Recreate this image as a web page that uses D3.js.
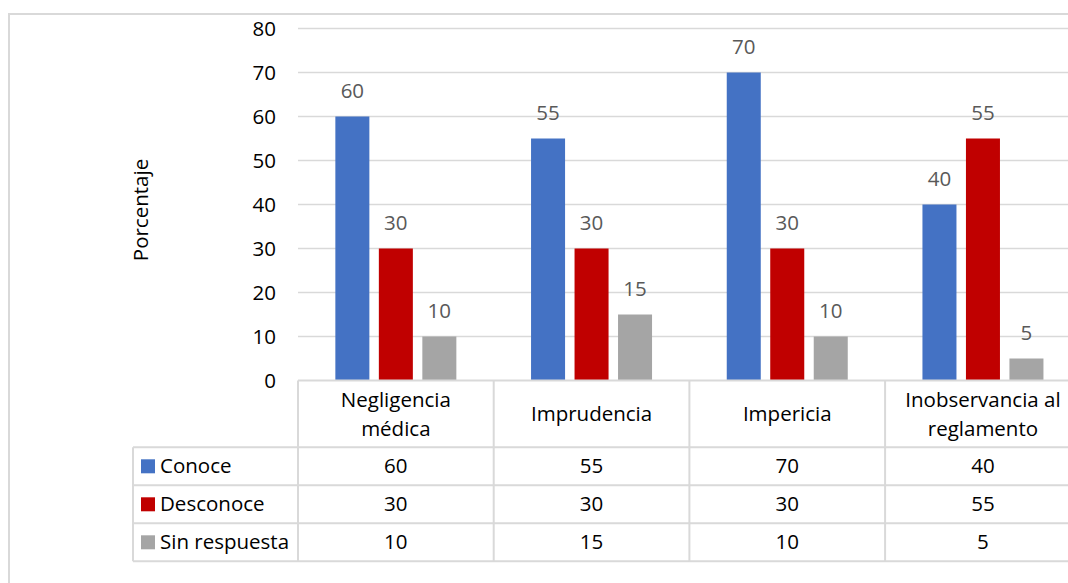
<!DOCTYPE html>
<html>
<head>
<meta charset="utf-8">
<script src="https://cdn.jsdelivr.net/npm/d3@7"></script>
<style>
  body { margin: 0; background: #fff; }
  text { font-family: "Open Sans", sans-serif; }
</style>
</head>
<body>
<script>
// Chart data
const categories = [["Negligencia", "médica"], ["Imprudencia"], ["Impericia"], ["Inobservancia al", "reglamento"]];
const seriesNames = ["Conoce", "Desconoce", "Sin respuesta"];
const conoce = [60, 55, 70, 40];
const desconoce = [30, 30, 30, 55];
const sinRespuesta = [10, 15, 10, 5];
const yTicks = [0, 10, 20, 30, 40, 50, 60, 70, 80];
const colors = ["#4472C4", "#C00000", "#A5A5A5"];

const values = [conoce, desconoce, sinRespuesta];

const width = 1068, height = 583;
const left = 298, colW = 195.7;
const yTop = 28.5, yBottom = 380.5;
const rowH = 38, headerBottom = 447.3, legendLeft = 133;
const gridColor = "#d9d9d9";
const fontSize = "20.5px";

const svg = d3.select("body").append("svg")
    .attr("width", width)
    .attr("height", height);

// outer chart border
svg.append("rect")
    .attr("x", 9).attr("y", 14)
    .attr("width", 1100).attr("height", 600)
    .attr("fill", "none")
    .attr("stroke", gridColor)
    .attr("stroke-width", 2);

const x0 = d3.scaleBand()
    .domain(d3.range(categories.length))
    .range([left, left + colW * categories.length]);

const x1 = d3.scaleBand()
    .domain(seriesNames)
    .range([x0.bandwidth() / 2 - 60.5, x0.bandwidth() / 2 + 60.5])
    .paddingInner(0.218);

const y = d3.scaleLinear().domain([0, 80]).range([yBottom, yTop]);

// gridlines
svg.append("g")
    .selectAll("line")
    .data(yTicks.slice(1))
    .enter().append("line")
    .attr("x1", left).attr("x2", width)
    .attr("y1", d => y(d)).attr("y2", d => y(d))
    .attr("stroke", gridColor)
    .attr("stroke-width", 1.3);

// y axis labels
const yAxis = svg.append("g")
    .attr("transform", `translate(${left - 22},0)`)
    .call(d3.axisLeft(y).tickValues(yTicks).tickSize(0).tickPadding(0));
yAxis.select(".domain").remove();
yAxis.selectAll("text")
    .style("font-family", "'Open Sans', sans-serif")
    .style("font-size", fontSize)
    .attr("fill", "#000");

svg.append("text")
    .attr("transform", `translate(148,210) rotate(-90)`)
    .attr("text-anchor", "middle")
    .style("font-size", fontSize)
    .text("Porcentaje");

// bars
const groups = svg.append("g")
    .selectAll("g")
    .data(categories.map((c, i) => i))
    .enter().append("g")
    .attr("transform", i => `translate(${x0(i)},0)`);

groups.selectAll("rect")
    .data(i => seriesNames.map((s, j) => ({ s, j, v: values[j][i] })))
    .enter().append("rect")
    .attr("x", d => x1(d.s))
    .attr("width", x1.bandwidth())
    .attr("y", d => y(d.v))
    .attr("height", d => y(0) - y(d.v))
    .attr("fill", d => colors[d.j]);

groups.selectAll("text.lbl")
    .data(i => seriesNames.map((s, j) => ({ s, j, v: values[j][i] })))
    .enter().append("text")
    .attr("class", "lbl")
    .attr("x", d => x1(d.s) + x1.bandwidth() / 2)
    .attr("y", d => y(d.v) - 18.5)
    .attr("text-anchor", "middle")
    .attr("fill", "#595959")
    .style("font-size", fontSize)
    .text(d => d.v);

// data table
const table = svg.append("g").attr("fill", "none").attr("stroke", gridColor).attr("stroke-width", 2);
const tableBottom = headerBottom + rowH * 3;
const colEdges = d3.range(categories.length + 1).map(i => left + colW * i);

// horizontal lines
table.append("line").attr("x1", left).attr("x2", width).attr("y1", yBottom).attr("y2", yBottom);
d3.range(4).forEach(r => {
    const yy = headerBottom + rowH * r;
    table.append("line").attr("x1", legendLeft).attr("x2", width).attr("y1", yy).attr("y2", yy);
});
// vertical lines
colEdges.forEach(xx => {
    table.append("line").attr("x1", xx).attr("x2", xx).attr("y1", yBottom).attr("y2", tableBottom);
});
table.append("line").attr("x1", legendLeft).attr("x2", legendLeft).attr("y1", headerBottom).attr("y2", tableBottom);

// header labels
categories.forEach((lines, i) => {
    const cx = x0(i) + x0.bandwidth() / 2;
    const mid = (yBottom + headerBottom) / 2;
    const lh = 29;
    const t = svg.append("text")
        .attr("text-anchor", "middle")
        .style("font-size", fontSize);
    lines.forEach((ln, k) => {
        t.append("tspan")
            .attr("x", cx)
            .attr("y", mid + (k - (lines.length - 1) / 2) * lh)
            .attr("dy", "0.35em")
            .text(ln);
    });
});

// rows
seriesNames.forEach((s, j) => {
    const cy = headerBottom + rowH * j + rowH / 2;
    svg.append("rect")
        .attr("x", 141).attr("y", cy - 7)
        .attr("width", 14).attr("height", 14)
        .attr("fill", colors[j]);
    svg.append("text")
        .attr("x", 160).attr("y", cy)
        .attr("dy", "0.35em")
        .style("font-size", fontSize)
        .text(s);
    values[j].forEach((v, i) => {
        svg.append("text")
            .attr("x", x0(i) + x0.bandwidth() / 2)
            .attr("y", cy)
            .attr("dy", "0.35em")
            .attr("text-anchor", "middle")
            .style("font-size", fontSize)
            .text(v);
    });
});
</script>
</body>
</html>
